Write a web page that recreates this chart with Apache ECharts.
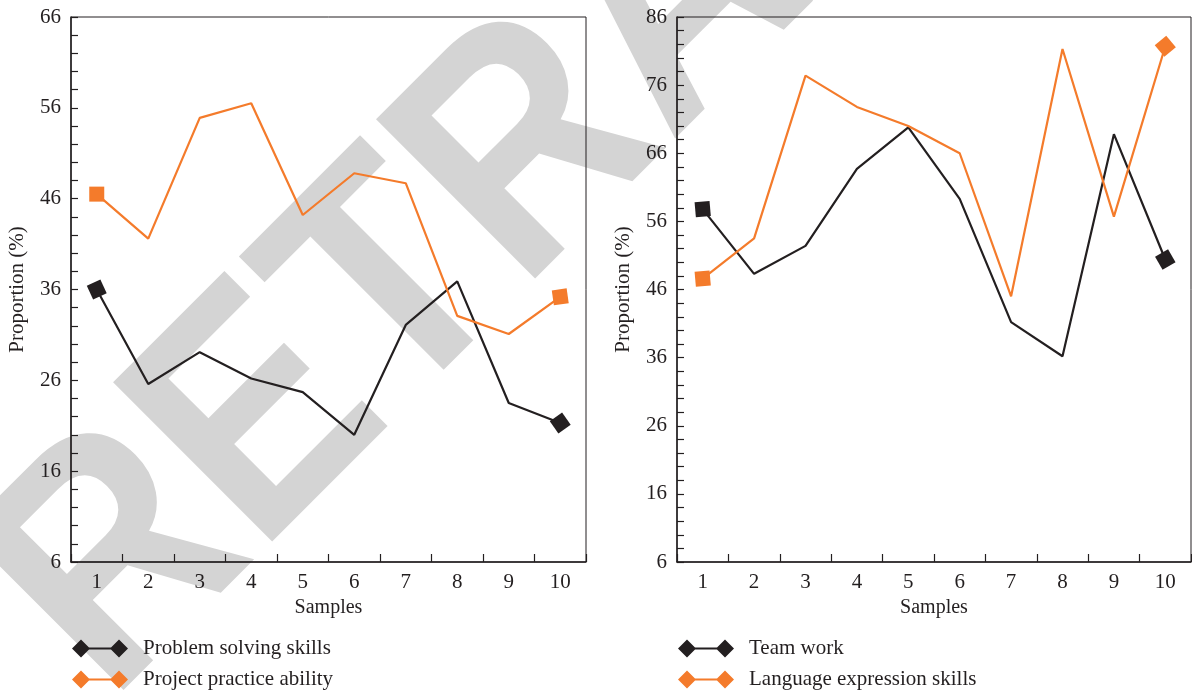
<!DOCTYPE html>
<html>
<head>
<meta charset="utf-8">
<script src="https://cdn.jsdelivr.net/npm/echarts@6/dist/echarts.min.js"></script>
<style>
  html, body { margin: 0; padding: 0; background: #fff; }
  #chart { width: 1192px; height: 692px; }
</style>
</head>
<body>
<div id="chart"></div>
<script>
const samples = ['1', '2', '3', '4', '5', '6', '7', '8', '9', '10']

// left panel
const problemSolving = [36.0, 25.6, 29.1, 26.2, 24.7, 20.0, 32.1, 36.9, 23.5, 21.3]
const projectPractice = [46.5, 41.6, 54.9, 56.5, 44.2, 48.8, 47.7, 33.1, 31.1, 35.2]

// right panel
const teamWork = [57.8, 48.3, 52.4, 63.7, 69.8, 59.3, 41.2, 36.2, 68.8, 50.4]
const languageExpression = [47.6, 53.5, 77.4, 72.8, 70.0, 66.0, 45.0, 81.3, 56.7, 81.7]

const leftTicks = { min: 6, max: 66, interval: 10 }
const rightTicks = { min: 6, max: 86, interval: 10 }

const BLACK = '#231f20'
const ORANGE = '#f47b2b'
const FONT = '"Liberation Serif", "DejaVu Serif", serif'

// diamond - line - diamond legend icon
const legendIcon = 'path://M0,9L9,0L18,9L9,18Z M38,9L47,0L56,9L47,18Z M17,8L39,8L39,10L17,10Z'

// only the first and last points carry a marker
const withEnds = (values, rot) => values.map((v, i) => {
	if (i === 0) return { value: v, symbol: 'rect', symbolSize: 15, symbolRotate: rot[0] }
	if (i === values.length - 1) return { value: v, symbol: 'rect', symbolSize: 15, symbolRotate: rot[1] }
	return { value: v, symbol: 'none' }
})

const lineSeries = (name, values, color, idx, rot) => ({
	name: name,
	type: 'line',
	xAxisIndex: idx,
	yAxisIndex: idx,
	data: withEnds(values, rot),
	showSymbol: true,
	lineStyle: { color: color, width: 2.2 },
	itemStyle: { color: color },
	emphasis: { disabled: true },
	animation: false,
	z: 3
})

const makeX = (idx) => ({
	type: 'category',
	gridIndex: idx,
	data: samples,
	boundaryGap: true,
	name: 'Samples',
	nameLocation: 'middle',
	nameGap: 34,
	nameTextStyle: { fontFamily: FONT, fontSize: 20, color: BLACK },
	axisLine: { lineStyle: { color: BLACK, width: 1.5 } },
	axisTick: { show: true, interval: 0, inside: true, length: 8, lineStyle: { color: BLACK, width: 1.2 } },
	axisLabel: { fontFamily: FONT, fontSize: 21, color: BLACK, margin: 10, interval: 0 },
	splitLine: { show: false }
})

const makeY = (idx, ticks) => ({
	type: 'value',
	gridIndex: idx,
	min: ticks.min,
	max: ticks.max,
	interval: ticks.interval,
	name: 'Proportion (%)',
	nameLocation: 'middle',
	nameGap: 43,
	nameTextStyle: { fontFamily: FONT, fontSize: 21, color: BLACK },
	axisLine: { show: true, lineStyle: { color: BLACK, width: 1.5 } },
	axisTick: { show: true, inside: true, length: 7, lineStyle: { color: BLACK, width: 1.2 } },
	minorTick: { show: true, splitNumber: 5, length: 7, lineStyle: { color: BLACK, width: 1.2 } },
	axisLabel: { fontFamily: FONT, fontSize: 21, color: BLACK, margin: 10 },
	splitLine: { show: false }
})

// one legend per entry so the two rows stack under each panel
const makeLegend = (left, top, name) => ({
	left: left,
	top: top,
	padding: 0,
	itemWidth: 56,
	itemHeight: 18,
	icon: legendIcon,
	selectedMode: false,
	textStyle: { fontFamily: FONT, fontSize: 21, color: BLACK, padding: [0, 0, 0, 10] },
	data: [name]
})

const chart = echarts.init(document.getElementById('chart'))

chart.setOption({
	animation: false,
	backgroundColor: '#fff',
	graphic: [
		{
			type: 'text',
			x: 46,
			y: 640,
			rotation: Math.PI / 4,
			scaleX: 0.89,
			z: -10,
			silent: true,
			style: {
				text: 'RETRACTED',
				fontFamily: '"Liberation Sans", Arial, sans-serif',
				fontWeight: 'bold',
				fontSize: 327,
				fill: '#d4d4d4',
				align: 'left',
				verticalAlign: 'middle'
			}
		}
	],
	grid: [
		{ left: 71, right: 606, top: 17, bottom: 130, show: true, borderColor: BLACK, borderWidth: 1, backgroundColor: 'transparent' },
		{ left: 677, right: 1, top: 17, bottom: 130, show: true, borderColor: BLACK, borderWidth: 1, backgroundColor: 'transparent' }
	],
	xAxis: [makeX(0), makeX(1)],
	yAxis: [makeY(0, leftTicks), makeY(1, rightTicks)],
	legend: [
		makeLegend(72, 638, 'Problem solving skills'),
		makeLegend(72, 669, 'Project practice ability'),
		makeLegend(678, 638, 'Team work'),
		makeLegend(678, 669, 'Language expression skills')
	],
	series: [
		lineSeries('Problem solving skills', problemSolving, BLACK, 0, [25, 35]),
		lineSeries('Project practice ability', projectPractice, ORANGE, 0, [0, 8]),
		lineSeries('Team work', teamWork, BLACK, 1, [5, 30]),
		lineSeries('Language expression skills', languageExpression, ORANGE, 1, [5, 40])
	]
})
</script>
</body>
</html>
